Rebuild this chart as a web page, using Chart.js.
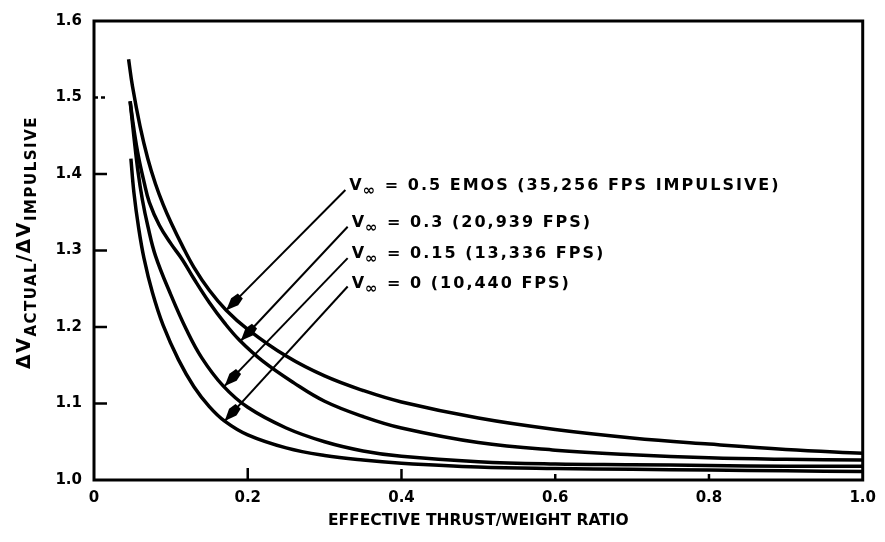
<!DOCTYPE html>
<html>
<head>
<meta charset="utf-8">
<script src="https://cdn.jsdelivr.net/npm/chart.js@4.4.0/dist/chart.umd.min.js"></script>
<style>
  html, body { margin: 0; padding: 0; background: #fff; }
  #wrap { width: 885px; height: 542px; position: relative; }
</style>
</head>
<body>
<div id="wrap"><canvas id="chart"></canvas></div>
<script>
// effective thrust/weight ratio (x) against dV actual / dV impulsive (y)
const ratioV05 = [0.045, 0.05, 0.06, 0.07, 0.08, 0.09, 0.1, 0.115, 0.13, 0.15, 0.172, 0.2, 0.25, 0.3, 0.35, 0.4, 0.5, 0.6, 0.7, 0.8, 0.9, 1.0];
const dvV05    = [1.55, 1.515, 1.462, 1.42, 1.387, 1.36, 1.337, 1.306, 1.278, 1.248, 1.222, 1.197, 1.162, 1.136, 1.117, 1.102, 1.081, 1.066, 1.055, 1.047, 1.040, 1.035];

const ratioV03 = [0.047, 0.052, 0.058, 0.065, 0.072, 0.085, 0.1, 0.115, 0.13, 0.15, 0.17, 0.19, 0.22, 0.26, 0.3, 0.35, 0.4, 0.5, 0.6, 0.7, 0.8, 0.9, 1.0];
const dvV03    = [1.495, 1.458, 1.422, 1.39, 1.363, 1.333, 1.309, 1.288, 1.263, 1.232, 1.205, 1.182, 1.155, 1.127, 1.103, 1.083, 1.068, 1.049, 1.039, 1.033, 1.029, 1.027, 1.026];

const ratioV015 = [0.047, 0.052, 0.057, 0.063, 0.07, 0.08, 0.1, 0.12, 0.14, 0.168, 0.2, 0.25, 0.3, 0.35, 0.4, 0.5, 0.6, 0.7, 0.8, 0.9, 1.0];
const dvV015    = [1.495, 1.448, 1.405, 1.366, 1.332, 1.293, 1.242, 1.197, 1.16, 1.123, 1.095, 1.068, 1.05, 1.038, 1.031, 1.024, 1.021, 1.020, 1.019, 1.018, 1.018];

const ratioV0 = [0.048, 0.052, 0.058, 0.065, 0.076, 0.09, 0.11, 0.13, 0.15, 0.17, 0.2, 0.25, 0.3, 0.35, 0.4, 0.5, 0.6, 0.7, 0.8, 0.9, 1.0];
const dvV0    = [1.42, 1.375, 1.33, 1.29, 1.245, 1.202, 1.157, 1.122, 1.096, 1.077, 1.059, 1.042, 1.032, 1.026, 1.022, 1.017, 1.015, 1.014, 1.013, 1.012, 1.011];

const xTickLabels = ["0", "0.2", "0.4", "0.6", "0.8", "1.0"];
const yTickLabels = ["1.0", "1.1", "1.2", "1.3", "1.4", "1.5", "1.6"];

// label text: "V" + subscript "∞" + rest
const labelRest = [" = 0.5 EMOS (35,256 FPS IMPULSIVE)", " = 0.3 (20,939 FPS)", " = 0.15 (13,336 FPS)", " = 0 (10,440 FPS)"];
// leader arrows, in data units: tail near the label, tip on the curve
const arrowTails = [[0.327, 1.379], [0.330, 1.331], [0.330, 1.290], [0.330, 1.253]];
const arrowTips  = [[0.172, 1.222], [0.191, 1.182], [0.170, 1.123], [0.170, 1.077]];

function pts(xs, ys) {
    return xs.map((x, i) => ({ x: x, y: ys[i] }));
}

const FONT = "'DejaVu Sans', sans-serif";

const frame = {
    id: "frame",
    beforeDatasetsDraw(chart) {
        const { ctx, chartArea: a, scales: { x, y } } = chart;
        ctx.save();
        ctx.strokeStyle = "#000";
        ctx.lineWidth = 3;
        ctx.strokeRect(a.left, a.top, a.right - a.left, a.bottom - a.top);
        ctx.lineWidth = 2.5;
        [[0.2, 12], [0.4, 11], [0.6, 6], [0.8, 6]].forEach(([v, len]) => {
            const px = x.getPixelForValue(v);
            ctx.beginPath();
            ctx.moveTo(px, a.bottom);
            ctx.lineTo(px, a.bottom - len);
            ctx.stroke();
        });
        [1.1, 1.2, 1.3, 1.4].forEach(v => {
            const py = y.getPixelForValue(v);
            ctx.beginPath();
            ctx.moveTo(a.left, py);
            ctx.lineTo(a.left + 13, py);
            ctx.stroke();
        });
        // the 1.5 tick is broken in the original
        ctx.setLineDash([4, 3]);
        const p15 = y.getPixelForValue(1.5);
        ctx.beginPath();
        ctx.moveTo(a.left, p15);
        ctx.lineTo(a.left + 11, p15);
        ctx.stroke();
        ctx.restore();
    },
    afterDraw(chart) {
        const { ctx, scales: { x, y } } = chart;
        ctx.save();
        ctx.fillStyle = "#000";
        ctx.strokeStyle = "#000";

        // y axis title with subscripts, rotated
        const parts = [["ΔV", "bold 19px " + FONT, 0], ["ACTUAL", "bold 15px " + FONT, 6],
                       ["/ΔV", "bold 19px " + FONT, 0], ["IMPULSIVE", "bold 15px " + FONT, 6]];
        ctx.letterSpacing = "1.5px";
        let total = 0;
        parts.forEach(p => { ctx.font = p[1]; total += ctx.measureText(p[0]).width; });
        ctx.translate(30, (y.getPixelForValue(1.6) + y.getPixelForValue(1.0)) / 2 - 8);
        ctx.rotate(-Math.PI / 2);
        ctx.textBaseline = "alphabetic";
        let pos = -total / 2;
        parts.forEach(p => {
            ctx.font = p[1];
            ctx.fillText(p[0], pos, p[2]);
            pos += ctx.measureText(p[0]).width;
        });
        ctx.setTransform(1, 0, 0, 1, 0, 0);

        // leader arrows and labels
        ctx.letterSpacing = "2px";
        arrowTails.forEach((t, i) => {
            const x0 = x.getPixelForValue(t[0]), y0 = y.getPixelForValue(t[1]);
            const x1 = x.getPixelForValue(arrowTips[i][0]), y1 = y.getPixelForValue(arrowTips[i][1]);
            ctx.lineWidth = 2;
            ctx.beginPath();
            ctx.moveTo(x0, y0);
            ctx.lineTo(x1, y1);
            ctx.stroke();
            const ang = Math.atan2(y1 - y0, x1 - x0);
            ctx.save();
            ctx.translate(x1, y1);
            ctx.rotate(ang);
            ctx.beginPath();
            ctx.moveTo(0, 0);
            ctx.lineTo(-12, -5);
            ctx.lineTo(-20, -3.5);
            ctx.lineTo(-20, 3.5);
            ctx.lineTo(-12, 5);
            ctx.closePath();
            ctx.fill();
            ctx.restore();

            let tx = x0 + 4;
            const ty = y0 + (i === 3 ? 2 : 0);
            ctx.textBaseline = "alphabetic";
            ctx.font = "bold 16px " + FONT;
            ctx.fillText("V", tx, ty);
            tx += ctx.measureText("V").width - 1;
            ctx.font = "bold 15px " + FONT;
            ctx.fillText("∞", tx, ty + 5);
            tx += ctx.measureText("∞").width;
            ctx.font = "bold 16px " + FONT;
            ctx.fillText(labelRest[i], tx, ty);
        });
        ctx.restore();
    }
};

const ctx = document.getElementById("chart");

const lineStyle = {
    borderColor: "#000",
    borderWidth: 3.5,
    pointRadius: 0,
    showLine: true,
    fill: false,
    tension: 0.4
};

new Chart(ctx, {
    type: "scatter",
    data: {
        datasets: [
            { label: "V∞ = 0.5 EMOS (35,256 FPS IMPULSIVE)", data: pts(ratioV05, dvV05), ...lineStyle },
            { label: "V∞ = 0.3 (20,939 FPS)", data: pts(ratioV03, dvV03), ...lineStyle },
            { label: "V∞ = 0.15 (13,336 FPS)", data: pts(ratioV015, dvV015), ...lineStyle },
            { label: "V∞ = 0 (10,440 FPS)", data: pts(ratioV0, dvV0), ...lineStyle }
        ]
    },
    options: {
        responsive: true,
        maintainAspectRatio: false,
        animation: false,
        layout: {
            padding: { left: 0, right: 15, top: 18, bottom: 0 }
        },
        scales: {
            x: {
                type: "linear",
                min: 0,
                max: 1,
                grid: { display: false, drawTicks: false },
                border: { display: false },
                ticks: {
                    stepSize: 0.2,
                    padding: 9,
                    color: "#000",
                    font: { family: FONT, size: 15, weight: "bold" },
                    maxRotation: 0,
                    callback: function(value, index) {
                        return xTickLabels[index];
                    }
                },
                title: {
                    display: true,
                    text: "EFFECTIVE THRUST/WEIGHT RATIO",
                    color: "#000",
                    font: { family: FONT, size: 15.5, weight: "bold" },
                    padding: { top: 0, bottom: 12 }
                },
                afterFit: function(scale) {
                    scale.height = 62;
                }
            },
            y: {
                type: "linear",
                min: 1.0,
                max: 1.6,
                grid: { display: false, drawTicks: false },
                border: { display: false },
                ticks: {
                    stepSize: 0.1,
                    padding: 12,
                    color: "#000",
                    font: { family: FONT, size: 15, weight: "bold" },
                    callback: function(value, index) {
                        return yTickLabels[index];
                    }
                },
                afterFit: function(scale) {
                    scale.width = 94;
                }
            }
        },
        plugins: {
            legend: { display: false },
            tooltip: { enabled: false }
        }
    },
    plugins: [frame]
});
</script>
</body>
</html>
